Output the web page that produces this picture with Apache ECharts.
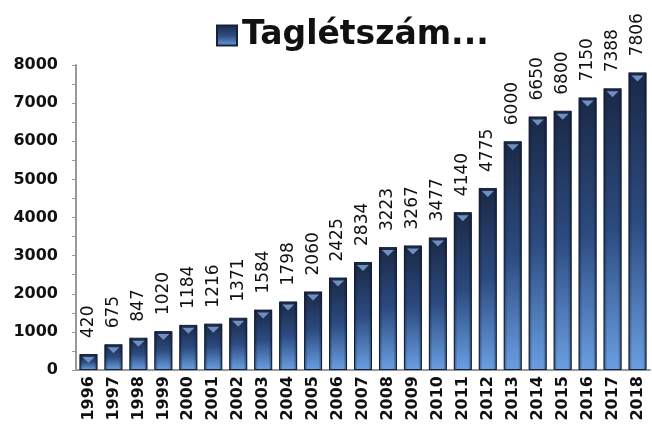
<!DOCTYPE html>
<html>
<head>
    <meta charset="UTF-8">
    <title>Taglétszám</title>
    <script src="https://cdn.jsdelivr.net/npm/echarts@6/dist/echarts.min.js"></script>
    <style>
        html, body { margin: 0; padding: 0; background: #fff; }
        #chart { width: 652px; height: 426px; }
    </style>
</head>
<body>
<div id="chart"></div>
<script>
    // adatok
    var years = ['1996', '1997', '1998', '1999', '2000', '2001', '2002', '2003', '2004', '2005', '2006', '2007',
        '2008', '2009', '2010', '2011', '2012', '2013', '2014', '2015', '2016', '2017', '2018'];
    var members = [420, 675, 847, 1020, 1184, 1216, 1371, 1584, 1798, 2060, 2425, 2834,
        3223, 3267, 3477, 4140, 4775, 6000, 6650, 6800, 7150, 7388, 7806];
    var seriesName = 'Taglétszám...';

    var font = 'DejaVu Sans';

    var barFill = new echarts.graphic.LinearGradient(0, 0, 0, 1, [
        {offset: 0, color: '#1b2947'},
        {offset: 0.5, color: '#2c4b80'},
        {offset: 1, color: '#6a9fe2'}
    ]);
    // sötétebb szélek
    var edgeShade = new echarts.graphic.LinearGradient(0, 0, 1, 0, [
        {offset: 0, color: 'rgba(10,20,40,0.55)'},
        {offset: 0.2, color: 'rgba(10,20,40,0.0)'},
        {offset: 0.8, color: 'rgba(10,20,40,0.0)'},
        {offset: 1, color: 'rgba(10,20,40,0.55)'}
    ]);

    var chart = echarts.init(document.getElementById('chart'));
    chart.setOption({
        animation: false,
        legend: {
            data: [{name: seriesName, icon: 'rect'}],
            top: 14,
            left: 211,
            itemWidth: 20,
            itemHeight: 20,
            itemGap: 18,
            textStyle: {fontFamily: font, fontSize: 33, fontWeight: 'bold', color: '#111'}
        },
        grid: {left: 76, right: 2, top: 65, bottom: 56},
        xAxis: {
            type: 'category',
            data: years,
            axisLine: {lineStyle: {color: '#999', width: 2}},
            axisTick: {show: false},
            axisLabel: {
                rotate: 90,
                interval: 0,
                margin: 6,
                fontFamily: font,
                fontSize: 16,
                fontWeight: 'bold',
                color: '#111'
            }
        },
        yAxis: {
            type: 'value',
            min: 0,
            max: 8000,
            interval: 1000,
            splitLine: {show: false},
            axisLine: {show: true, lineStyle: {color: '#999', width: 2}},
            axisTick: {show: true, length: 4, lineStyle: {color: '#999'}},
            minorTick: {show: true, splitNumber: 2, length: 4, lineStyle: {color: '#999'}},
            axisLabel: {
                margin: 18,
                formatter: function (v) { return String(v); },
                fontFamily: font,
                fontSize: 16,
                fontWeight: 'bold',
                color: '#111'
            }
        },
        series: [
            {
                name: seriesName,
                type: 'bar',
                data: members,
                barCategoryGap: '28%',
                itemStyle: {color: barFill, borderColor: '#16223c', borderWidth: 1},
                label: {
                    show: true,
                    position: 'top',
                    rotate: 90,
                    align: 'left',
                    verticalAlign: 'middle',
                    distance: 16,
                    fontFamily: font,
                    fontSize: 17,
                    color: '#111'
                }
            },
            {
                name: 'shade',
                type: 'bar',
                data: members,
                barGap: '-100%',
                barCategoryGap: '28%',
                silent: true,
                itemStyle: {color: edgeShade}
            },
            {
                name: 'bevel',
                type: 'pictorialBar',
                data: members,
                symbol: 'path://M0,0 L10,0 L5,5 Z',
                symbolSize: [12, 6],
                symbolPosition: 'end',
                symbolOffset: [0, '50%'],
                silent: true,
                z: 5,
                itemStyle: {color: '#6f8fbf'}
            }
        ]
    });
</script>
</body>
</html>
